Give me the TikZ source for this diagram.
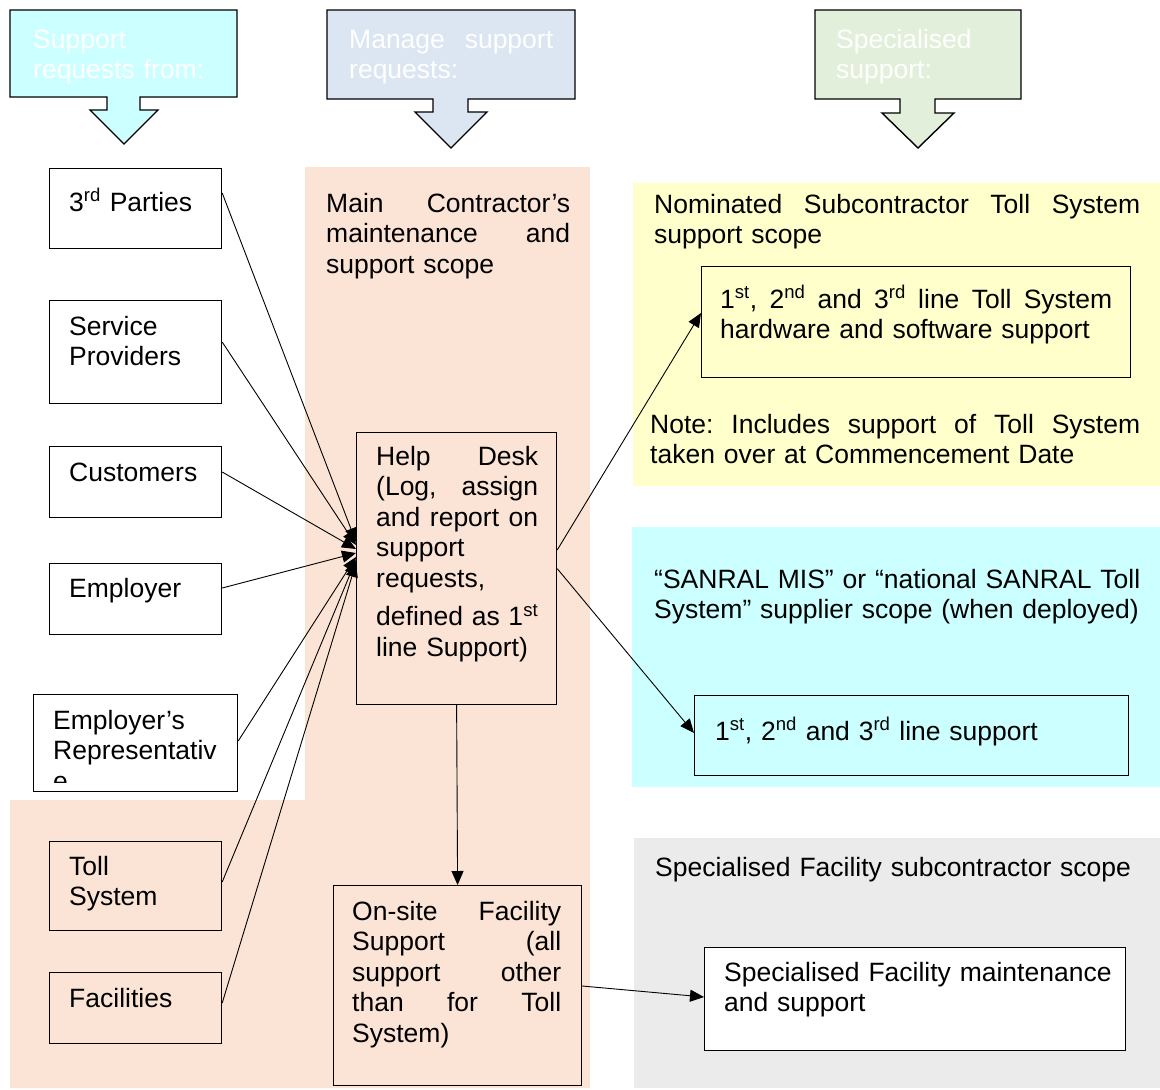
\documentclass[tikz,border=0pt]{standalone}
\usepackage{fontspec}
\setmainfont{Liberation Sans}
\usepackage{tikz}
\usetikzlibrary{arrows.meta,calc}
\definecolor{peach}{HTML}{FBE4D5}
\definecolor{paleyellow}{HTML}{FFFFCC}
\definecolor{palecyan}{HTML}{CCFFFF}
\definecolor{paleblue}{HTML}{DCE6F2}
\definecolor{palegreen}{HTML}{E2EFDA}
\definecolor{palegrey}{HTML}{EBEBEB}
\newcommand{\bodyfont}{\fontsize{26.5}{30.5}\selectfont}

\begin{document}
\begin{tikzpicture}[x=1pt,y=-1pt,inner sep=0pt,
  box/.style={draw=black,line width=1.2pt,anchor=north west,inner sep=0pt},
  txt/.style={anchor=base west,inner sep=0pt,font=\bodyfont,align=left},
  head/.style={txt,text=white},
  callout/.style={draw=black,line width=1.4pt},
  link/.style={line width=0.9pt,-{Triangle[length=14pt,width=12pt]}}]
\useasboundingbox (0,0) rectangle (1160,1090);
%Scope backgrounds
\fill[peach] (305,167) -- (590,167) -- (590,1088) -- (10,1088) -- (10,800) -- (305,800) -- cycle;
\fill[paleyellow] (633,183) rectangle (1160,486);
\fill[palecyan] (632,527) rectangle (1160,787);
\fill[palegrey] (634,838) rectangle (1160,1088);
%Column headers
\draw[callout,fill=palecyan] (10,10) -- (237,10) -- (237,97) -- (140,97) -- (140,110) -- (158,110) -- (124,144) -- (90,110) -- (107,110) -- (107,97) -- (10,97) -- cycle;
\draw[callout,fill=paleblue] (327,10) -- (575,10) -- (575,99) -- (468,99) -- (468,112) -- (487,112) -- (451,148) -- (415,112) -- (433,112) -- (433,99) -- (327,99) -- cycle;
\draw[callout,fill=palegreen] (815,10) -- (1021,10) -- (1021,99) -- (935,99) -- (935,113) -- (954,113) -- (918,148) -- (882,113) -- (900,113) -- (900,99) -- (815,99) -- cycle;
\node[head,text width=200] (hdrA) at (33,48) {Support\\requests from:};
\node[head,text width=204] (hdrB) at (349,48) {Manage\hfill support\\requests:};
\node[head,text width=180] (hdrC) at (836,48) {Specialised\\support:};
%Scope labels
\node[txt,text width=244] (mainscope) at (326,212) {Main\hfill Contractor’s\\maintenance\hfill and\\support scope};
\node[txt,text width=486] (tollscope) at (654,213) {Nominated\hfill Subcontractor\hfill Toll\hfill System\\support scope};
\node[txt,text width=490] (note) at (650,433) {Note:\hfill Includes\hfill support\hfill of\hfill Toll\hfill System\\taken over at Commencement Date};
\node[txt,text width=500] (misscope) at (654,588) {“SANRAL MIS” or “national SANRAL Toll\\System” supplier scope (when deployed)};
\node[txt,text width=500] (facscope) at (655,876) {Specialised Facility subcontractor scope};
%Request sources
\node[box,fill=white,minimum width=172,minimum height=80] (parties) at (49,168) {};
\node[box,fill=white,minimum width=172,minimum height=103] (providers) at (49,300) {};
\node[box,fill=white,minimum width=172,minimum height=71] (customers) at (49,446) {};
\node[box,fill=white,minimum width=172,minimum height=71] (employer) at (49,563) {};
\node[box,fill=white,minimum width=204,minimum height=97] (emprep) at (33,694) {};
\node[box,minimum width=172,minimum height=89] (tollsys) at (49,841) {};
\node[box,minimum width=172,minimum height=71] (facilities) at (49,972) {};
\node[txt,text width=140] (partiestxt) at (69,211) {3\textsuperscript{rd} Parties};
\node[txt,text width=140] (providerstxt) at (69,335) {Service\\Providers};
\node[txt,text width=140] (customerstxt) at (69,481) {Customers};
\node[txt,text width=140] (employertxt) at (69,597) {Employer};
\begin{scope}
\clip (emprep.north west) rectangle ($(emprep.south east)+(0,-10)$);
\node[txt,text width=180] (empreptxt) at (53,729) {Employer’s\\Representativ\\e};
\end{scope}
\node[txt,text width=140] (tollsystxt) at (69,875) {Toll\\System};
\node[txt,text width=140] (facilitiestxt) at (69,1007) {Facilities};
%Main contractor boxes
\node[box,minimum width=200,minimum height=272] (helpdesk) at (356,432) {};
\node[txt,text width=162] (helpdesktxt) at (376,465) {Help\hfill Desk\\(Log,\hfill assign\\and\hfill report\hfill on\\support\\requests,\\[8pt]defined\hfill as\hfill 1\textsuperscript{st}\\line Support)};
\node[box,minimum width=248,minimum height=200] (onsite) at (333,885) {};
\node[txt,text width=209] (onsitetxt) at (352,920) {On-site\hfill Facility\\Support\hfill (all\\support\hfill other\\than\hfill for\hfill Toll\\System)};
%Specialised support boxes
\node[box,minimum width=429,minimum height=111] (tollbox) at (701,266) {};
\node[txt,text width=392] (tollboxtxt) at (720,308) {1\textsuperscript{st},\hfill 2\textsuperscript{nd}\hfill and\hfill 3\textsuperscript{rd}\hfill line\hfill Toll\hfill System\\hardware and software support};
\node[box,minimum width=434,minimum height=80] (linebox) at (694,695) {};
\node[txt,text width=400] (lineboxtxt) at (715,740) {1\textsuperscript{st}, 2\textsuperscript{nd} and 3\textsuperscript{rd} line support};
\node[box,fill=white,minimum width=421,minimum height=103] (facbox) at (704,947) {};
\node[txt,text width=395] (facboxtxt) at (724,981) {Specialised Facility maintenance\\and support};
%Connections
\draw[link] ($(parties.north east)+(0,25)$) -- ($(helpdesk.north west)+(0,110)$);
\draw[link] ($(providers.north east)+(0,42)$) -- ($(helpdesk.north west)+(0,113)$);
\draw[link] ($(customers.north east)+(0,26)$) -- ($(helpdesk.north west)+(0,117)$);
\draw[link] ($(employer.north east)+(0,25)$) -- ($(helpdesk.north west)+(0,121)$);
\draw[link] ($(emprep.north east)+(0,47)$) -- ($(helpdesk.north west)+(0,125)$);
\draw[link] ($(tollsys.north east)+(0,41)$) -- ($(helpdesk.north west)+(0,128)$);
\draw[link] ($(facilities.north east)+(0,31)$) -- ($(helpdesk.north west)+(0,131)$);
\draw[link] ($(helpdesk.north east)+(0,118)$) -- ($(tollbox.north west)+(0,47)$);
\draw[link] (helpdesk.east) -- ($(linebox.north west)+(0,38)$);
\draw[link] (helpdesk.south) -- (onsite.north);
\draw[link] ($(onsite.north east)+(0,101)$) -- ($(facbox.north west)+(0,50)$);
\end{tikzpicture}
\end{document}
